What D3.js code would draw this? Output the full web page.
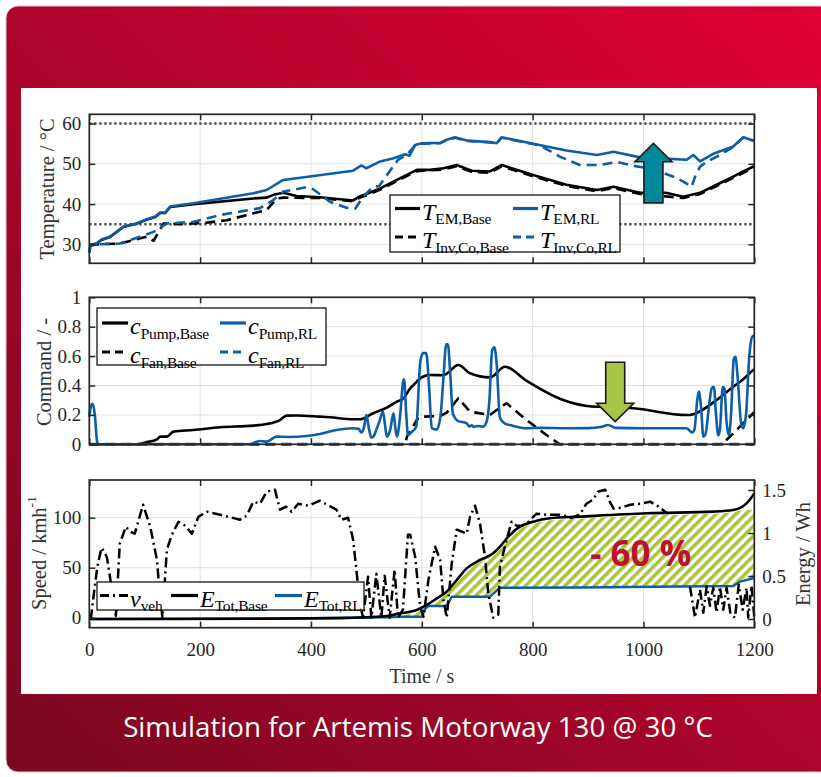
<!DOCTYPE html>
<html><head><meta charset="utf-8">
<script src="https://cdn.jsdelivr.net/npm/d3@7"></script>
<style>html,body{margin:0;padding:0;background:#fff;} svg{display:block} text{font-variant-ligatures:none;}</style>
</head><body>
<svg id="c" width="821" height="777"></svg>
<script>
// ---------------- DATA ----------------
const timeTicks = [0, 200, 400, 600, 800, 1000, 1200];
const tempTicks = [30, 40, 50, 60];
const cmdTicks = [0, 0.2, 0.4, 0.6, 0.8, 1];
const speedTicks = [0, 50, 100];
const energyTicks = [0, 0.5, 1, 1.5];
const tempLimits = [60, 35];

// Temperatures
const tEmRl = [0, 2, 13, 22, 37, 49, 61, 85, 103, 119, 128, 137, 146, 188, 296, 320, 350, 476, 491, 500, 525, 549, 570, 578, 588, 600, 633, 645, 660, 681, 723, 735, 744, 801, 861, 916, 946, 994, 1078, 1090, 1102, 1126, 1162, 1180, 1198, 1200];
const vEmRl = [28, 29.6, 30.2, 31.2, 31.9, 33.1, 34.4, 35.2, 36.2, 36.9, 37.9, 37.9, 39.4, 40.2, 42.7, 43.5, 46.0, 48.3, 49.6, 48.9, 50.6, 51.4, 52.4, 52.0, 54.7, 55.1, 55.2, 56.0, 56.6, 55.8, 55.4, 55.1, 56.6, 55.0, 53.3, 52.2, 53.0, 51.6, 51.0, 52.2, 50.6, 52.5, 54.3, 56.6, 55.8, 56.0];
const tInvRl = [0, 2, 13, 55, 91, 116, 140, 188, 236, 308, 332, 350, 392, 404, 434, 464, 480, 494, 512, 523, 546, 557, 573, 588, 600, 633, 645, 660, 681, 723, 735, 744, 801, 813, 849, 885, 921, 952, 982, 1018, 1054, 1072, 1087, 1093, 1102, 1114, 1138, 1162, 1180, 1198, 1200];
const vInvRl = [28, 29.6, 30.0, 30.2, 31.9, 33.1, 35.2, 35.6, 37.3, 39.0, 41.0, 43.1, 44.2, 43.7, 40.6, 39.1, 38.9, 41.8, 44.3, 44.5, 48.9, 51.0, 52.2, 54.6, 55.0, 55.1, 55.9, 56.5, 55.7, 55.3, 55.0, 56.5, 54.9, 54.6, 51.8, 49.7, 49.7, 50.5, 49.5, 48.7, 46.8, 45.6, 44.3, 46.8, 49.3, 50.5, 52.2, 54.2, 56.5, 55.7, 56.0];
const tEmBase = [0, 13, 22, 37, 49, 61, 85, 103, 119, 128, 137, 146, 188, 296, 320, 332, 350, 374, 416, 476, 488, 500, 525, 555, 591, 615, 639, 663, 690, 723, 744, 801, 861, 916, 946, 994, 1040, 1072, 1102, 1132, 1162, 1180, 1198, 1200];
const vEmBase = [29.8, 30.2, 31.1, 31.8, 33.0, 34.3, 35.1, 36.1, 36.8, 37.8, 37.8, 39.3, 40.0, 41.4, 41.6, 42.3, 42.8, 42.0, 41.7, 40.9, 41.9, 42.5, 43.9, 46.0, 48.5, 48.5, 48.9, 49.7, 48.3, 48.1, 49.7, 47.2, 44.8, 43.5, 44.3, 42.8, 42.8, 41.8, 42.8, 44.8, 46.8, 48.1, 49.3, 49.5];
const tInvBase = [0, 13, 55, 103, 116, 134, 164, 212, 248, 296, 320, 338, 350, 416, 476, 488, 500, 525, 555, 591, 639, 663, 690, 723, 744, 801, 861, 916, 946, 994, 1072, 1102, 1132, 1162, 1198, 1200];
const vInvBase = [29.8, 30.0, 30.2, 31.9, 30.9, 35.2, 35.0, 35.4, 36.0, 37.7, 38.5, 41.4, 41.6, 41.5, 40.7, 41.6, 42.2, 43.6, 45.7, 48.2, 48.6, 49.4, 48.0, 47.8, 49.4, 46.9, 44.5, 43.2, 44.0, 42.5, 41.5, 42.5, 44.5, 46.5, 49.0, 49.2];

// Commands
const tPumpBase = [0, 85, 103, 122, 128, 140, 152, 188, 236, 296, 320, 344, 356, 374, 416, 434, 476, 488, 512, 537, 555, 567, 579, 585, 600, 615, 639, 666, 687, 723, 750, 789, 855, 898, 982, 1078, 1090, 1132, 1162, 1180, 1198, 1200];
const vPumpBase = [0, 0, 0.014, 0.034, 0.052, 0.052, 0.086, 0.097, 0.116, 0.127, 0.138, 0.165, 0.195, 0.196, 0.188, 0.184, 0.170, 0.170, 0.211, 0.250, 0.290, 0.313, 0.381, 0.403, 0.456, 0.471, 0.470, 0.539, 0.483, 0.455, 0.528, 0.432, 0.301, 0.261, 0.245, 0.199, 0.205, 0.301, 0.392, 0.442, 0.505, 0.51];
const tFanBase = [0, 570, 573, 594, 600, 633, 645, 666, 687, 723, 735, 753, 789, 825, 849, 1145, 1150, 1162, 1198, 1200];
const vFanBase = [0, 0, 0.05, 0.184, 0.188, 0.192, 0.215, 0.313, 0.222, 0.199, 0.233, 0.279, 0.165, 0.063, 0, 0, 0.03, 0.075, 0.211, 0.22];
const tPumpRl = [0, 3, 6, 10, 14, 17, 290, 300, 308, 320, 338, 360, 392, 416, 446, 476, 486, 491, 496, 500, 504, 509, 514, 518, 524, 530, 534, 537, 543, 549, 552, 555, 561, 566, 568, 572, 575, 582, 590, 597, 602, 608, 613, 618, 627, 634, 639, 644, 647, 651, 656, 665, 681, 686, 690, 694, 700, 710, 717, 722, 727, 731, 735, 741, 750, 759, 789, 813, 860, 900, 925, 936, 950, 1000, 1078, 1088, 1092, 1097, 1100, 1104, 1108, 1112, 1118, 1123, 1127, 1131, 1135, 1138, 1143, 1146, 1150, 1154, 1158, 1163, 1166, 1170, 1176, 1180, 1185, 1191, 1196, 1200];
const vPumpRl = [0.188, 0.26, 0.275, 0.2, 0.02, 0, 0, 0.015, 0.022, 0.018, 0.052, 0.05, 0.056, 0.070, 0.097, 0.109, 0.105, 0.08, 0.12, 0.199, 0.12, 0.045, 0.06, 0.10, 0.16, 0.222, 0.12, 0.052, 0.1, 0.211, 0.12, 0.052, 0.2, 0.42, 0.442, 0.2, 0.063, 0.085, 0.12, 0.55, 0.62, 0.62, 0.4, 0.11, 0.10, 0.2, 0.45, 0.68, 0.68, 0.5, 0.21, 0.16, 0.143, 0.12, 0.13, 0.118, 0.125, 0.12, 0.154, 0.3, 0.64, 0.66, 0.55, 0.18, 0.14, 0.131, 0.109, 0.112, 0.109, 0.11, 0.12, 0.131, 0.112, 0.109, 0.109, 0.08, 0.1, 0.3, 0.358, 0.25, 0.052, 0.07, 0.25, 0.38, 0.392, 0.2, 0.06, 0.1, 0.39, 0.38, 0.15, 0.06, 0.2, 0.58, 0.596, 0.45, 0.15, 0.109, 0.2, 0.6, 0.73, 0.74];
const tFanRl = [0, 1200];
const vFanRl = [0, 0];

// Speed and energy
const tSpeed = [0, 3, 8.5, 14.5, 22, 27, 32, 40, 48, 55, 66, 74, 82, 97, 110, 122, 127, 132, 140, 149, 161, 173, 185, 197, 212, 236, 272, 284, 296, 308, 320, 335, 344, 355, 365, 377, 395, 416, 446, 455, 467, 476, 482, 488, 494, 503, 509, 518, 527, 533, 542, 551, 557, 566, 575, 579, 588, 597, 603, 612, 624, 633, 639, 645, 654, 663, 672, 681, 687, 696, 705, 714, 720, 729, 738, 741, 753, 762, 771, 780, 789, 807, 825, 849, 870, 885, 897, 909, 918, 931, 940, 946, 960, 976, 994, 1012, 1025, 1039, 1045, 1060, 1084, 1093, 1102, 1108, 1114, 1120, 1126, 1132, 1138, 1144, 1150, 1157, 1165, 1172, 1179, 1186, 1189, 1195, 1200];
const vSpeed = [0, 0, 25, 51, 70, 66, 60, 31, 2, 74, 91, 86, 84, 113, 91, 58, 25, 0, 68, 83, 96, 92, 84, 101, 106, 103, 98, 102, 116, 114, 126, 128, 108, 111, 106, 114, 112, 117, 108, 98, 100, 78, 48, 15, 0, 41, 0, 44, 0, 42, 0, 48, 0, 8, 83, 83, 61, 11, 1, 38, 71, 58, 18, 0, 54, 88, 86, 84, 101, 112, 94, 61, 24, 0, 3, 51, 78, 96, 92, 92, 94, 104, 103, 103, 100, 103, 114, 118, 126, 128, 115, 109, 110, 113, 114, 116, 112, 106, 104, null, 31, 0, 28, 5, 31, 12, 30, 5, 31, 8, 30, 4, 0, 33, 8, 30, 0, 32, 0];
const tEBase = [0, 300, 450, 500, 537, 561, 579, 591, 609, 627, 645, 663, 681, 705, 729, 741, 759, 777, 801, 831, 885, 1006, 1126, 1162, 1186, 1198, 1200];
const vEBase = [0, 0.003, 0.01, 0.02, 0.035, 0.066, 0.085, 0.105, 0.163, 0.24, 0.318, 0.453, 0.589, 0.686, 0.764, 0.841, 0.977, 1.073, 1.131, 1.171, 1.19, 1.229, 1.248, 1.267, 1.345, 1.44, 1.46];
const tERl = [0, 400, 540, 561, 600, 606, 612, 645, 654, 723, 741, 885, 1162, 1174, 1198, 1200];
const vERl = [0, 0.008, 0.02, 0.027, 0.027, 0.12, 0.151, 0.151, 0.259, 0.259, 0.364, 0.366, 0.384, 0.434, 0.473, 0.49];

const savingLabel = "- 60 %";
const savingPos = [995, 0.62];
const hatchRange = [561, 1200];
const hatchCap = 1.27;
const arrowUp = {t: 1018, from: 40.3, headBase: 50.5, to: 55.1};
const arrowDown = {t: 949, from: 0.558, headBase: 0.279, to: 0.154};
const titleText = "Simulation for Artemis Motorway 130 @ 30 °C";

// ---------------- DRAWING ----------------
const BLUE = "#0d5ea8", BLACK = "#000";
const svg = d3.select("#c");
const defs = svg.append("defs");
const grad = defs.append("linearGradient").attr("id", "bg").attr("x1", 0).attr("y1", 1).attr("x2", 1).attr("y2", 0);
grad.append("stop").attr("offset", "0%").attr("stop-color", "#7a0820");
grad.append("stop").attr("offset", "100%").attr("stop-color", "#e20037");
const pat = defs.append("pattern").attr("id", "hatch").attr("patternUnits", "userSpaceOnUse")
  .attr("width", 7).attr("height", 7).attr("patternTransform", "rotate(45)");
pat.append("rect").attr("width", 7).attr("height", 7).attr("fill", "#fff");
pat.append("rect").attr("width", 3.6).attr("height", 7).attr("fill", "#a9c43c");

svg.append("rect").attr("x", 6).attr("y", 6).attr("width", 840).attr("height", 766).attr("rx", 12)
  .attr("fill", "url(#bg)").attr("stroke", "#cfcfcf").attr("stroke-width", 1);
svg.append("rect").attr("x", 21).attr("y", 88).attr("width", 796).attr("height", 606).attr("fill", "#fff");

const x = d3.scaleLinear().domain([0, 1200]).range([89.3, 754.3]);
const yT = d3.scaleLinear().domain([25.3, 62.3]).range([263.3, 114.3]);
const yC = d3.scaleLinear().domain([0, 1]).range([444.3, 297.3]);
const yV = d3.scaleLinear().domain([-10, 137.7]).range([627.7, 480]);
const yE = d3.scaleLinear().domain([-0.101, 1.616]).range([627.7, 480]);

const FONT = "'Liberation Serif', 'Times New Roman', serif";
const FS = 19;

function zip(ts, vs) { return ts.map((t, i) => [t, vs[i]]); }

function panel(y, gridTicks) {
  const [b, t] = y.range();
  const g = svg.append("g");
  g.selectAll(".gv").data(timeTicks.slice(1, -1)).join("line")
    .attr("x1", d => x(d)).attr("x2", d => x(d)).attr("y1", t).attr("y2", b)
    .attr("stroke", "#e0e0e0").attr("stroke-width", 1);
  g.selectAll(".gh").data(gridTicks).join("line")
    .attr("x1", x.range()[0]).attr("x2", x.range()[1]).attr("y1", d => y(d)).attr("y2", d => y(d))
    .attr("stroke", "#e0e0e0").attr("stroke-width", 1);
  return g;
}
function styleAxis(a) {
  a.select(".domain").remove();
  a.selectAll(".tick line").attr("stroke", "#262626").attr("stroke-width", 1.5);
  a.selectAll(".tick text").attr("font-family", FONT).attr("font-size", FS).attr("fill", "#262626");
}
function box(y) {
  const [b, t] = y.range();
  svg.append("rect").attr("x", x.range()[0]).attr("y", t).attr("width", x.range()[1] - x.range()[0])
    .attr("height", b - t).attr("fill", "none").attr("stroke", "#262626").attr("stroke-width", 1.7);
}
function frameAxes(y, ticksL, fmtL, rightScale, ticksR, fmtR, showX) {
  const [b, t] = y.range();
  const xl = x.range()[0], xr = x.range()[1];
  styleAxis(svg.append("g").attr("transform", `translate(${xl},0)`)
    .call(d3.axisLeft(y).tickValues(ticksL).tickFormat(fmtL).tickSizeInner(-6).tickSizeOuter(0).tickPadding(8)));
  styleAxis(svg.append("g").attr("transform", `translate(${xr},0)`)
    .call(d3.axisRight(rightScale).tickValues(ticksR).tickFormat(fmtR).tickSizeInner(-6).tickSizeOuter(0).tickPadding(8)));
  styleAxis(svg.append("g").attr("transform", `translate(0,${t})`)
    .call(d3.axisTop(x).tickValues(timeTicks).tickFormat("").tickSizeInner(-6).tickSizeOuter(0)));
  styleAxis(svg.append("g").attr("transform", `translate(0,${b})`)
    .call(d3.axisBottom(x).tickValues(timeTicks).tickFormat(showX ? d3.format("d") : "").tickSizeInner(-6).tickSizeOuter(0).tickPadding(15)));
  box(y);
}
function drawLine(g, ts, vs, y, color, dash, curve, width) {
  g.append("path").datum(zip(ts, vs))
    .attr("d", d3.line().defined(d => d[1] !== null).x(d => x(d[0])).y(d => y(d[1])).curve(curve || d3.curveLinear))
    .attr("fill", "none").attr("stroke", color).attr("stroke-width", width || 2.6)
    .attr("stroke-dasharray", dash || null).attr("stroke-linejoin", "round");
}
function label(g, main, sub, xx, yy, mainSize, subSize) {
  const tx = g.append("text").attr("x", xx).attr("y", yy).attr("font-family", FONT).attr("fill", "#000");
  tx.append("tspan").attr("font-style", "italic").attr("font-size", mainSize).text(main);
  tx.append("tspan").attr("font-size", subSize).attr("dy", 4.5).attr("letter-spacing", -0.2).text(sub);
  return tx;
}
function legend(items, bx, by, bw, bh) {
  const g = svg.append("g");
  g.append("rect").attr("x", bx).attr("y", by).attr("width", bw).attr("height", bh)
    .attr("fill", "#fff").attr("stroke", "#000").attr("stroke-width", 1.2);
  items.forEach(it => {
    g.append("line").attr("x1", it.lx).attr("x2", it.lx + it.lw).attr("y1", it.ly).attr("y2", it.ly)
      .attr("stroke", it.color).attr("stroke-width", 3.2).attr("stroke-dasharray", it.dash || null);
    label(g, it.main, it.sub, it.lx + it.lw + 2, it.ly + 11, it.ms || 24, it.ss || 15.5);
  });
}

// ---- Panel 1: temperatures
const g1 = panel(yT, tempTicks);
g1.selectAll(".lim").data(tempLimits).join("line")
  .attr("x1", x.range()[0]).attr("x2", x.range()[1]).attr("y1", d => yT(d)).attr("y2", d => yT(d))
  .attr("stroke", "#444").attr("stroke-width", 2.6).attr("stroke-dasharray", "2.2,2.8");
drawLine(g1, tInvBase, vInvBase, yT, BLACK, "10,6");
drawLine(g1, tEmBase, vEmBase, yT, BLACK);
drawLine(g1, tInvRl, vInvRl, yT, BLUE, "10,6");
drawLine(g1, tEmRl, vEmRl, yT, BLUE);
function arrow(g, a, y, fill) {
  const cx = x(a.t), hw = 9.5, hh = 18.5;
  const y0 = y(a.from), yb = y(a.headBase), yt = y(a.to);
  const pts = [[cx - hw, y0], [cx - hw, yb], [cx - hh, yb], [cx, yt], [cx + hh, yb], [cx + hw, yb], [cx + hw, y0]];
  g.append("polygon").attr("points", pts.map(p => p.join(",")).join(" "))
    .attr("fill", fill).attr("stroke", "#1a1a1a").attr("stroke-width", 1.6).attr("stroke-linejoin", "miter");
}
arrow(g1, arrowUp, yT, "#00889b");
frameAxes(yT, tempTicks, d3.format("d"), yT, tempTicks, "", false);
legend([
  {lx: 395, lw: 25, ly: 208.5, color: BLACK, main: "T", sub: "EM,Base"},
  {lx: 513, lw: 25, ly: 208.5, color: BLUE, main: "T", sub: "EM,RL"},
  {lx: 395, lw: 25, ly: 237, color: BLACK, dash: "8,5", main: "T", sub: "Inv,Co,Base"},
  {lx: 513, lw: 25, ly: 237, color: BLUE, dash: "8,5", main: "T", sub: "Inv,Co,RL"}
], 390, 195, 230, 57);

// ---- Panel 2: commands
const g2 = panel(yC, cmdTicks);
drawLine(g2, tFanBase, vFanBase, yC, BLACK, "10,6");
drawLine(g2, tPumpBase, vPumpBase, yC, BLACK, null, d3.curveMonotoneX);
drawLine(g2, tFanRl, vFanRl, yC, BLUE, "10,6", null, 3);
drawLine(g2, tPumpRl, vPumpRl, yC, BLUE, null, d3.curveMonotoneX);
arrow(g2, arrowDown, yC, "#a9c546");
frameAxes(yC, cmdTicks, d => d === 0 ? "0" : d === 1 ? "1" : d3.format(".1f")(d), yC, cmdTicks, "", false);
legend([
  {lx: 102, lw: 26, ly: 323, color: BLACK, main: "c", sub: "Pump,Base"},
  {lx: 220, lw: 26, ly: 323, color: BLUE, main: "c", sub: "Pump,RL"},
  {lx: 102, lw: 26, ly: 352, color: BLACK, dash: "8,5", main: "c", sub: "Fan,Base"},
  {lx: 220, lw: 26, ly: 352, color: BLUE, dash: "8,5", main: "c", sub: "Fan,RL"}
], 97, 308, 229, 57);

// ---- Panel 3: speed & energy
const g3 = panel(yV, speedTicks.slice(1));
const clipId = "aboveRl";
defs.append("clipPath").attr("id", clipId).append("path").datum(zip(tERl, vERl))
  .attr("d", d3.area().x(d => x(d[0])).y0(yE.range()[1] - 20).y1(d => yE(d[1])));
const hatchPts = zip(tEBase, vEBase).filter(d => d[0] >= hatchRange[0] && d[0] <= hatchRange[1]);
g3.append("path").datum(hatchPts)
  .attr("d", d3.area().x(d => x(d[0])).y0(yE(0)).y1(d => yE(Math.min(d[1] - 0.025, hatchCap))).curve(d3.curveMonotoneX))
  .attr("fill", "url(#hatch)").attr("clip-path", `url(#${clipId})`);
drawLine(g3, tERl, vERl, yE, BLUE, null, null, 2.4);
drawLine(g3, tEBase, vEBase, yE, BLACK, null, d3.curveMonotoneX, 2.6);
drawLine(g3, tSpeed, vSpeed, yV, BLACK, "10,4,2,4", null, 2.5);
g3.append("text").attr("x", x(savingPos[0])).attr("y", yE(savingPos[1])).attr("text-anchor", "middle")
  .attr("font-family", "'Open Sans', sans-serif").attr("font-weight", 700).attr("font-size", 35)
  .attr("fill", "#bf1030").text(savingLabel);
frameAxes(yV, speedTicks, d3.format("d"), yE, energyTicks, d => d === 0 ? "0" : d === 1 ? "1" : d3.format(".1f")(d), true);
legend([
  {lx: 100, lw: 28, ly: 595.5, color: BLACK, dash: "9,4,2,4", main: "v", sub: "veh"},
  {lx: 171, lw: 27, ly: 595.5, color: BLACK, main: "E", sub: "Tot,Base"},
  {lx: 275, lw: 27, ly: 595.5, color: BLUE, main: "E", sub: "Tot,RL"}
], 97, 582, 267, 28);

// ---- Axis titles
function vtitle(cx, cy, parts) {
  const t = svg.append("text").attr("transform", `translate(${cx},${cy}) rotate(-90)`)
    .attr("text-anchor", "middle").attr("dominant-baseline", "central")
    .attr("font-family", FONT).attr("font-size", 20.5).attr("fill", "#333");
  parts.forEach(p => {
    const s = t.append("tspan").text(p.text);
    if (p.sup) s.attr("font-size", 13.5).attr("baseline-shift", "super");
  });
}
vtitle(47, 189, [{text: "Temperature / °C"}]);
vtitle(44, 372, [{text: "Command / -"}]);
vtitle(39, 553, [{text: "Speed / kmh"}, {text: "-1", sup: true}]);
vtitle(803, 554, [{text: "Energy / Wh"}]);
svg.append("text").attr("x", x(600)).attr("y", 683).attr("text-anchor", "middle")
  .attr("font-family", FONT).attr("font-size", 20).attr("fill", "#333").text("Time / s");

// ---- Title
const tt = svg.append("text").attr("x", 418).attr("y", 737).attr("text-anchor", "middle")
  .attr("font-family", "'Open Sans', sans-serif").attr("font-size", 25).attr("fill", "#fff").text(titleText);
const w = tt.node().getComputedTextLength();
tt.attr("font-size", 25 * 590 / w);
</script>
</body></html>
